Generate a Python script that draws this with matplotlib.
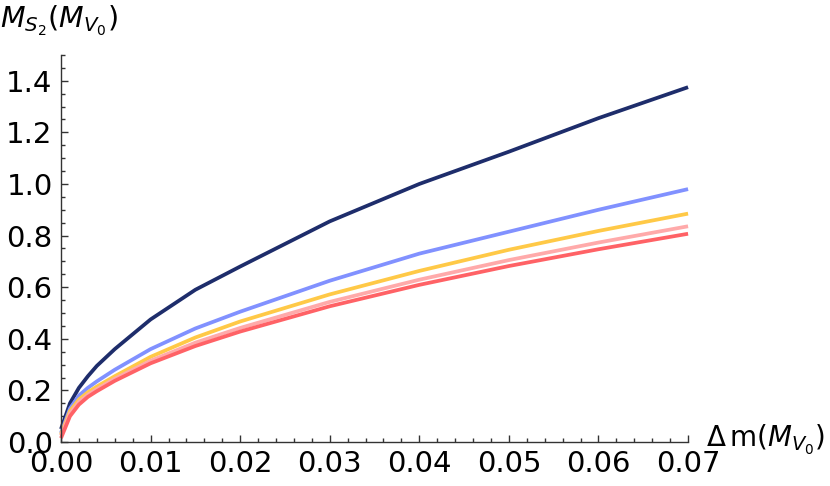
import matplotlib
matplotlib.use("Agg")
import matplotlib.pyplot as plt
from matplotlib.ticker import MultipleLocator
import numpy as np

plt.rcParams['mathtext.fontset'] = 'dejavusans'

# mass splitting (in units of M_V0)
dm = [0.0, 0.001, 0.002, 0.003, 0.004, 0.006, 0.01, 0.015, 0.02, 0.03, 0.04, 0.05, 0.06, 0.07]

# M_S2 curves
m_navy = [0.05, 0.15, 0.21, 0.255, 0.295, 0.36, 0.475, 0.59, 0.68, 0.855, 1.0, 1.125, 1.255, 1.375]
m_blue = [0.035, 0.13, 0.18, 0.21, 0.235, 0.28, 0.36, 0.44, 0.505, 0.625, 0.73, 0.815, 0.90, 0.98]
m_yellow = [0.03, 0.12, 0.165, 0.193, 0.215, 0.255, 0.33, 0.405, 0.467, 0.572, 0.663, 0.745, 0.818, 0.885]
m_pink = [0.025, 0.11, 0.155, 0.183, 0.205, 0.245, 0.315, 0.385, 0.442, 0.543, 0.629, 0.705, 0.773, 0.836]
m_red = [0.015, 0.10, 0.145, 0.175, 0.197, 0.237, 0.305, 0.372, 0.428, 0.526, 0.609, 0.682, 0.747, 0.807]

curves = [
    (m_navy, "#1e2d6b"),
    (m_blue, "#8191ff"),
    (m_yellow, "#ffc947"),
    (m_pink, "#ffaaaa"),
    (m_red, "#ff6266"),
]

fig = plt.figure(figsize=(8.3, 4.86), dpi=100)
ax = fig.add_axes([0.0735, 0.0905, 0.7555, 0.7965])

for vals, col in curves:
    ax.plot(dm, vals, color=col, lw=2.7, solid_capstyle="butt", clip_on=False)

ax.set_xlim(0, 0.07)
ax.set_ylim(0, 1.5)

for s in ["top", "right"]:
    ax.spines[s].set_visible(False)
for s in ["left", "bottom"]:
    ax.spines[s].set_color("#333333")
    ax.spines[s].set_linewidth(1.0)

ax.xaxis.set_major_locator(MultipleLocator(0.01))
ax.xaxis.set_minor_locator(MultipleLocator(0.002))
ax.yaxis.set_major_locator(MultipleLocator(0.2))
ax.yaxis.set_minor_locator(MultipleLocator(0.05))
ax.xaxis.set_major_formatter(plt.FuncFormatter(lambda v, p: "%.2f" % v))
ax.yaxis.set_major_formatter(plt.FuncFormatter(lambda v, p: "%.1f" % v))

ax.tick_params(which="both", direction="in", color="#333333", width=1.0,
               labelsize=21, top=False, right=False)
ax.tick_params(which="major", length=5.2, pad=6)
ax.tick_params(which="minor", length=2.9)

fig.text(0.0, 0.942, r"$M_{S_2}(M_{V_0})$", fontsize=20.5, ha="left", va="baseline")
fig.text(0.851, 0.094, r"$\Delta\,\mathrm{m}(M_{V_0})$", fontsize=20, ha="left", va="center")

fig.savefig("out.png", dpi=100)
